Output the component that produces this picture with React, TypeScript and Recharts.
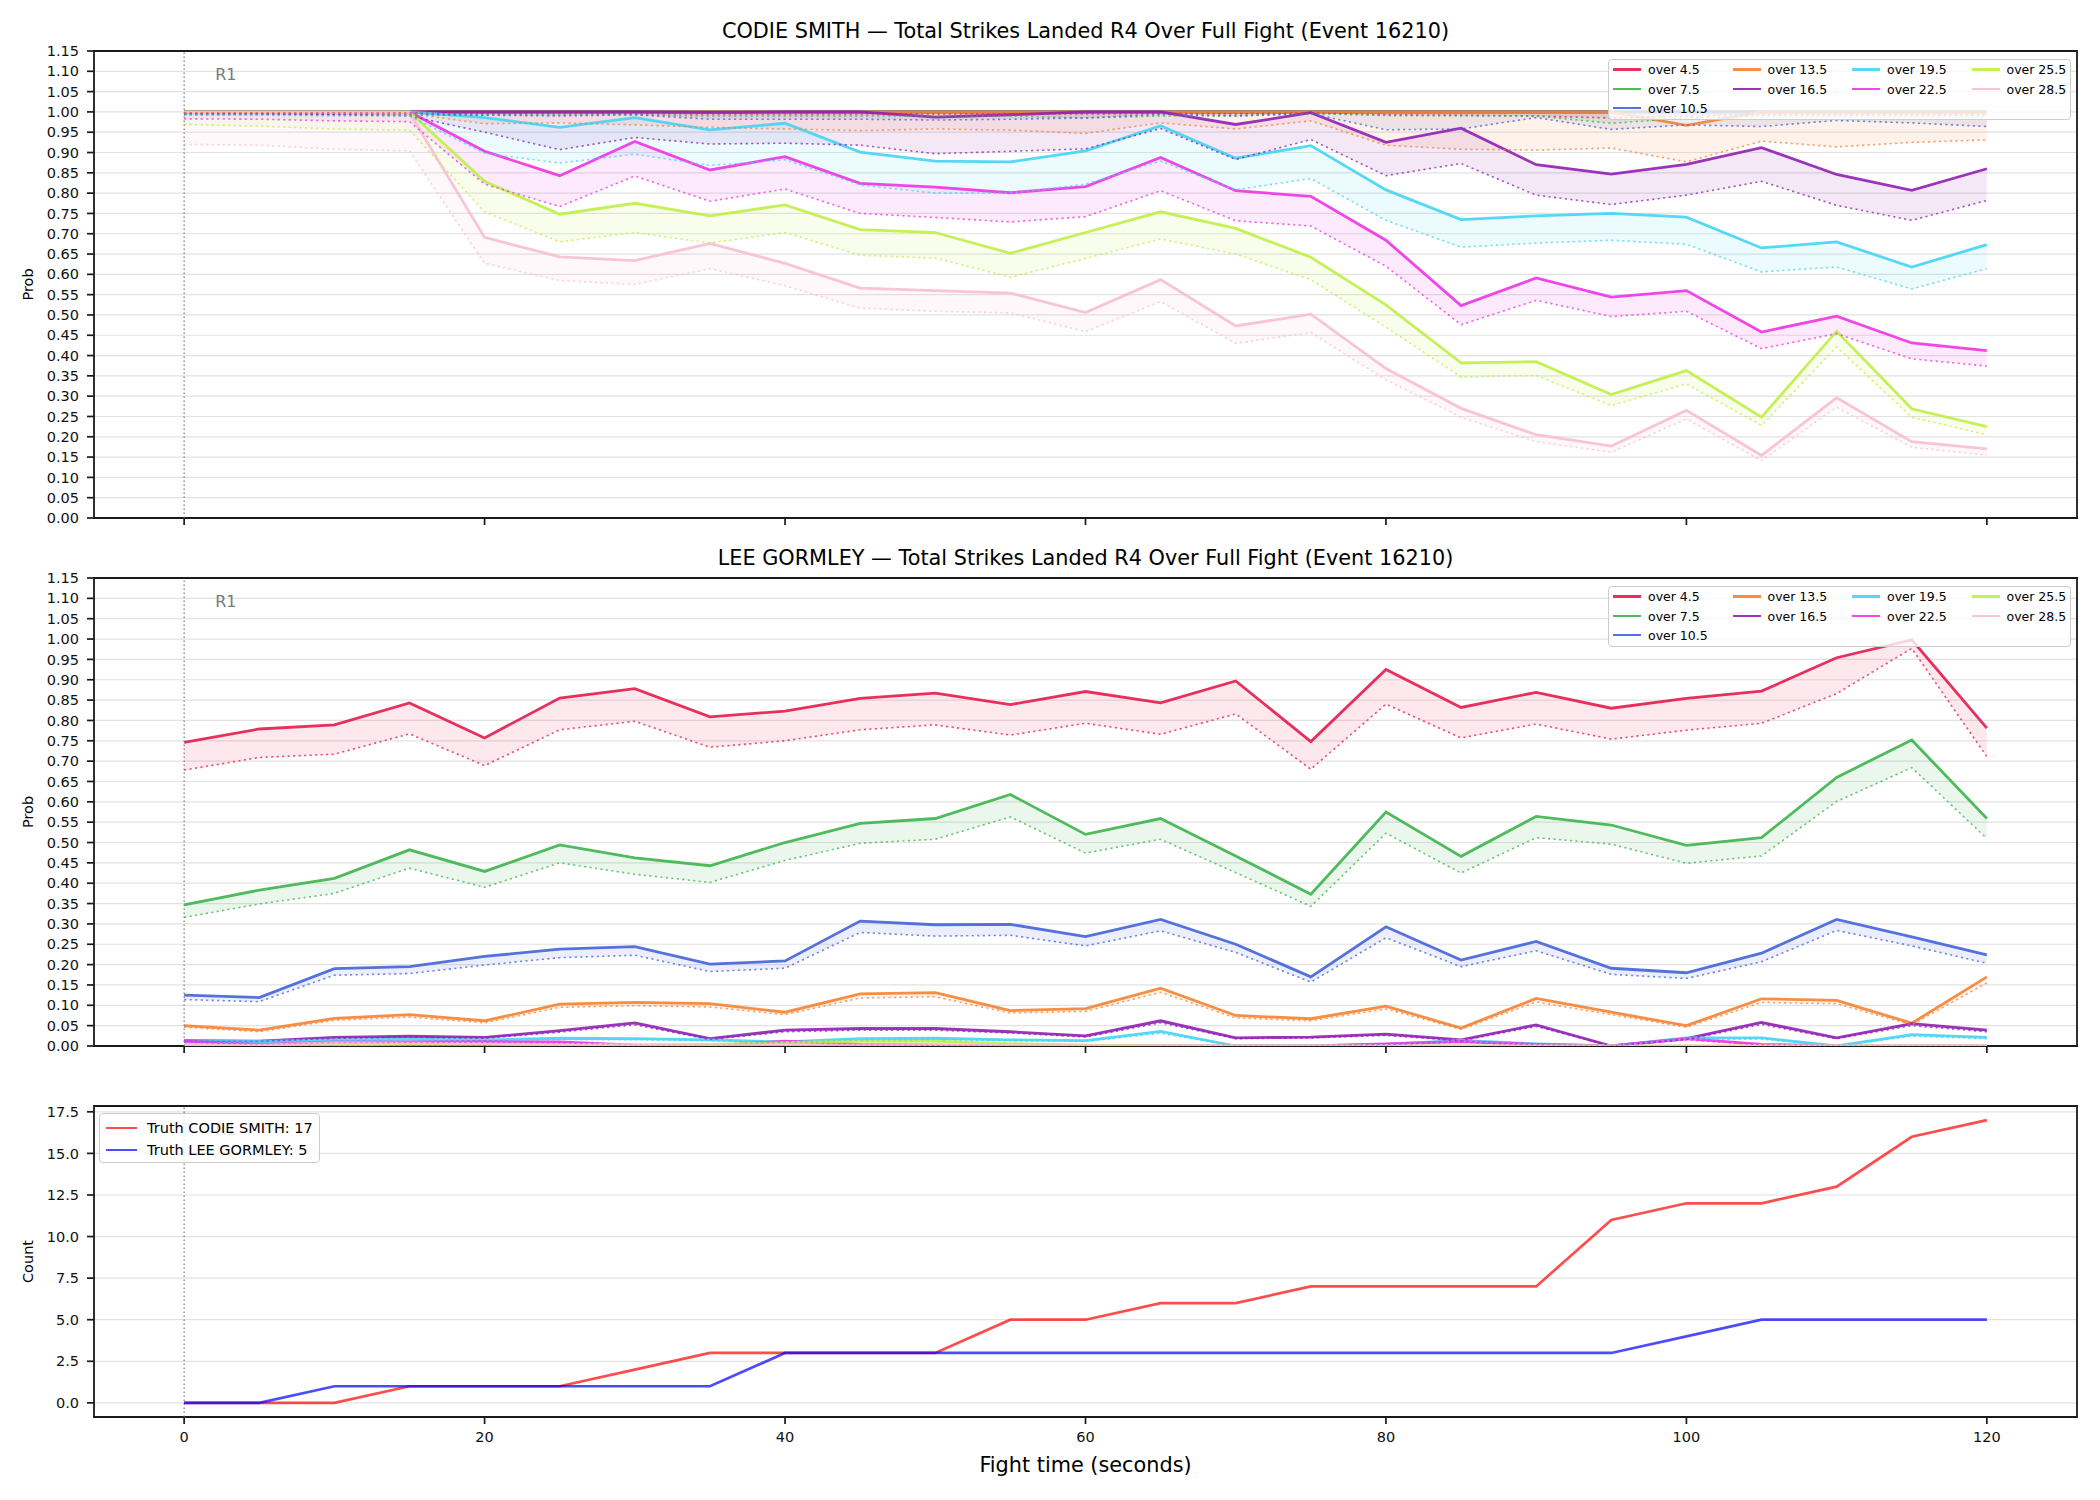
import React from 'react';
import { ComposedChart, Line, Area, XAxis, YAxis, CartesianGrid, ReferenceLine, ReferenceArea } from 'recharts';

const FONT = '"DejaVu Sans", "Liberation Sans", sans-serif';

// ---------------- data ----------------
const TIMES = [0, 5, 10, 15, 20, 25, 30, 35, 40, 45, 50, 55, 60, 65, 70, 75, 80, 85, 90, 95, 100, 105, 110, 115, 120];
const X_TICKS = [0, 20, 40, 60, 80, 100, 120];
const PROB_TICKS = [0, 0.05, 0.1, 0.15, 0.2, 0.25, 0.3, 0.35, 0.4, 0.45, 0.5, 0.55, 0.6, 0.65, 0.7, 0.75, 0.8, 0.85, 0.9, 0.95, 1.0, 1.05, 1.1, 1.15];
const COUNT_TICKS = [0, 2.5, 5, 7.5, 10, 12.5, 15, 17.5];

const LINE_LABELS = ['over 4.5', 'over 7.5', 'over 10.5', 'over 13.5', 'over 16.5', 'over 19.5', 'over 22.5', 'over 25.5', 'over 28.5'];
const LINE_COLORS = ['#e6194b', '#3cb44b', '#4363d8', '#f58231', '#911eb4', '#42d4f4', '#f032e6', '#bfef45', '#fabed4'];

const TITLE_CS = 'CODIE SMITH — Total Strikes Landed R4 Over Full Fight (Event 16210)';
const TITLE_LG = 'LEE GORMLEY — Total Strikes Landed R4 Over Full Fight (Event 16210)';

// CODIE SMITH: upper (solid) and lower (dotted) lines
const CS_HI_45 = [1, 1, 1, 1, 1, 1, 1, 1, 1, 1, 1, 1, 1, 1, 1, 1, 1, 1, 1, 1, 1, 1, 1, 1, 1];
const CS_LO_45 = [0.997, 0.997, 0.997, 0.997, 0.996, 0.996, 0.996, 0.995, 0.995, 0.995, 0.995, 0.995, 0.995, 0.996, 0.995, 0.997, 0.993, 0.992, 0.99, 0.985, 0.99, 0.995, 0.995, 0.995, 0.995];
const CS_HI_75 = [1, 1, 1, 1, 1, 1, 1, 1, 1, 1, 1, 1, 1, 1, 1, 1, 1, 1, 1, 1, 1, 1, 1, 1, 1];
const CS_LO_75 = [0.995, 0.995, 0.995, 0.995, 0.993, 0.993, 0.993, 0.99, 0.99, 0.99, 0.99, 0.99, 0.985, 0.99, 0.99, 0.996, 0.991, 0.99, 0.99, 0.972, 0.985, 0.99, 0.99, 0.99, 0.99];
const CS_HI_105 = [1, 1, 1, 1, 1, 1, 1, 1, 1, 1, 1, 1, 1, 1, 1, 1, 1, 1, 1, 1, 1, 1, 1, 1, 1];
const CS_LO_105 = [0.993, 0.993, 0.993, 0.993, 0.992, 0.99, 0.993, 0.982, 0.982, 0.982, 0.98, 0.982, 0.985, 0.994, 0.99, 0.996, 0.956, 0.958, 0.986, 0.957, 0.968, 0.964, 0.979, 0.973, 0.964];
const CS_HI_135 = [1, 1, 1, 1, 1, 1, 1, 1, 1, 1, 1, 1, 1, 1, 1, 1, 1, 1, 1, 1, 0.967, 1, 1, 1, 1];
const CS_LO_135 = [0.997, 0.997, 0.996, 0.996, 0.971, 0.973, 0.968, 0.962, 0.958, 0.954, 0.958, 0.955, 0.947, 0.973, 0.958, 0.978, 0.918, 0.908, 0.906, 0.911, 0.877, 0.928, 0.914, 0.925, 0.931];
const CS_HI_165 = [1, 1, 1, 1, 1, 1, 1, 0.999, 1, 1, 0.987, 0.993, 1, 1, 0.969, 0.998, 0.925, 0.96, 0.87, 0.847, 0.871, 0.912, 0.846, 0.807, 0.86];
const CS_LO_165 = [0.995, 0.995, 0.993, 0.99, 0.95, 0.907, 0.937, 0.921, 0.923, 0.918, 0.897, 0.903, 0.909, 0.959, 0.883, 0.932, 0.843, 0.873, 0.795, 0.772, 0.795, 0.829, 0.77, 0.733, 0.782];
const CS_HI_195 = [1, 1, 1, 1, 0.986, 0.962, 0.986, 0.956, 0.972, 0.901, 0.879, 0.877, 0.904, 0.966, 0.886, 0.917, 0.808, 0.735, 0.744, 0.75, 0.741, 0.665, 0.68, 0.618, 0.673];
const CS_LO_195 = [0.992, 0.992, 0.99, 0.99, 0.898, 0.874, 0.896, 0.868, 0.882, 0.82, 0.8, 0.8, 0.822, 0.879, 0.808, 0.836, 0.733, 0.667, 0.677, 0.684, 0.674, 0.606, 0.618, 0.564, 0.614];
const CS_HI_225 = [1, 1, 1, 1, 0.903, 0.843, 0.927, 0.857, 0.89, 0.824, 0.815, 0.801, 0.816, 0.888, 0.806, 0.792, 0.684, 0.523, 0.591, 0.544, 0.56, 0.458, 0.497, 0.431, 0.412];
const CS_LO_225 = [0.983, 0.982, 0.978, 0.976, 0.822, 0.767, 0.842, 0.78, 0.81, 0.75, 0.74, 0.729, 0.742, 0.806, 0.732, 0.719, 0.62, 0.476, 0.536, 0.496, 0.509, 0.417, 0.454, 0.392, 0.374];
const CS_HI_255 = [1, 1, 1, 1, 0.829, 0.748, 0.775, 0.744, 0.771, 0.71, 0.703, 0.652, 0.703, 0.754, 0.713, 0.642, 0.525, 0.382, 0.385, 0.304, 0.363, 0.248, 0.46, 0.269, 0.225];
const CS_LO_255 = [0.969, 0.965, 0.958, 0.955, 0.754, 0.68, 0.703, 0.677, 0.703, 0.647, 0.64, 0.593, 0.639, 0.687, 0.65, 0.587, 0.47, 0.347, 0.351, 0.277, 0.33, 0.228, 0.421, 0.248, 0.205];
const CS_HI_285 = [0.998, 0.998, 0.998, 0.998, 0.691, 0.643, 0.634, 0.676, 0.627, 0.566, 0.56, 0.554, 0.506, 0.587, 0.473, 0.502, 0.368, 0.27, 0.205, 0.177, 0.265, 0.154, 0.296, 0.188, 0.17];
const CS_LO_285 = [0.92, 0.918, 0.908, 0.904, 0.627, 0.585, 0.575, 0.614, 0.572, 0.517, 0.509, 0.505, 0.459, 0.533, 0.43, 0.457, 0.34, 0.248, 0.188, 0.162, 0.244, 0.141, 0.273, 0.174, 0.155];

// LEE GORMLEY: upper (solid) and lower (dotted) lines
const LG_HI_45 = [0.746, 0.779, 0.789, 0.843, 0.757, 0.855, 0.878, 0.809, 0.823, 0.854, 0.867, 0.839, 0.871, 0.843, 0.897, 0.748, 0.925, 0.832, 0.869, 0.83, 0.854, 0.872, 0.954, 0.998, 0.781];
const LG_LO_45 = [0.678, 0.709, 0.717, 0.767, 0.689, 0.777, 0.798, 0.734, 0.75, 0.777, 0.789, 0.764, 0.793, 0.766, 0.816, 0.68, 0.84, 0.757, 0.791, 0.754, 0.776, 0.793, 0.866, 0.977, 0.711];
const LG_HI_75 = [0.347, 0.383, 0.412, 0.482, 0.429, 0.494, 0.462, 0.443, 0.5, 0.547, 0.559, 0.618, 0.52, 0.559, 0.467, 0.373, 0.575, 0.466, 0.564, 0.543, 0.493, 0.512, 0.66, 0.752, 0.559];
const LG_LO_75 = [0.316, 0.349, 0.375, 0.437, 0.39, 0.45, 0.422, 0.402, 0.456, 0.498, 0.508, 0.563, 0.474, 0.508, 0.426, 0.343, 0.523, 0.425, 0.512, 0.496, 0.449, 0.467, 0.601, 0.684, 0.51];
const LG_HI_105 = [0.125, 0.119, 0.19, 0.195, 0.22, 0.238, 0.244, 0.201, 0.209, 0.307, 0.298, 0.299, 0.269, 0.311, 0.25, 0.17, 0.293, 0.211, 0.257, 0.191, 0.18, 0.228, 0.311, 0.268, 0.224];
const LG_LO_105 = [0.114, 0.109, 0.174, 0.178, 0.199, 0.217, 0.223, 0.183, 0.191, 0.279, 0.27, 0.272, 0.246, 0.283, 0.23, 0.157, 0.266, 0.195, 0.234, 0.176, 0.166, 0.207, 0.284, 0.246, 0.203];
const LG_HI_135 = [0.05, 0.039, 0.068, 0.077, 0.062, 0.103, 0.107, 0.104, 0.083, 0.128, 0.131, 0.087, 0.092, 0.142, 0.075, 0.067, 0.098, 0.044, 0.117, 0.083, 0.05, 0.116, 0.112, 0.056, 0.17];
const LG_LO_135 = [0.046, 0.035, 0.063, 0.071, 0.057, 0.095, 0.099, 0.096, 0.077, 0.118, 0.121, 0.081, 0.085, 0.132, 0.069, 0.062, 0.091, 0.041, 0.108, 0.077, 0.046, 0.107, 0.104, 0.052, 0.155];
const LG_HI_165 = [0.013, 0.012, 0.021, 0.024, 0.021, 0.038, 0.057, 0.018, 0.039, 0.043, 0.043, 0.035, 0.025, 0.062, 0.02, 0.022, 0.029, 0.015, 0.052, 0.0, 0.018, 0.058, 0.02, 0.055, 0.039];
const LG_LO_165 = [0.011, 0.011, 0.019, 0.022, 0.019, 0.034, 0.052, 0.016, 0.035, 0.039, 0.039, 0.032, 0.022, 0.057, 0.018, 0.02, 0.026, 0.013, 0.048, 0.0, 0.016, 0.053, 0.018, 0.05, 0.035];
const LG_HI_195 = [0.011, 0.011, 0.015, 0.017, 0.015, 0.019, 0.018, 0.015, 0.01, 0.018, 0.019, 0.015, 0.013, 0.036, 0.0, 0.0, 0.004, 0.014, 0.005, 0.0, 0.02, 0.02, 0.0, 0.028, 0.021];
const LG_LO_195 = [0.009, 0.009, 0.013, 0.014, 0.013, 0.016, 0.015, 0.013, 0.008, 0.015, 0.016, 0.013, 0.011, 0.031, 0.0, 0.0, 0.003, 0.012, 0.004, 0.0, 0.017, 0.017, 0.0, 0.024, 0.018];
const LG_HI_225 = [0.012, 0.004, 0.01, 0.01, 0.011, 0.01, 0.002, 0.0, 0.012, 0.004, 0.002, 0.0, 0.0, 0.0, 0.0, 0.0, 0.005, 0.011, 0.004, 0.0, 0.018, 0.004, 0.0, 0.0, 0.0];
const LG_LO_225 = [0.01, 0.003, 0.008, 0.008, 0.009, 0.008, 0.002, 0.0, 0.01, 0.003, 0.002, 0.0, 0.0, 0.0, 0.0, 0.0, 0.004, 0.009, 0.003, 0.0, 0.015, 0.003, 0.0, 0.0, 0.0];
const LG_HI_255 = [0.002, 0.0, 0.003, 0.004, 0.004, 0.003, 0.003, 0.004, 0.008, 0.012, 0.012, 0.006, 0.002, 0.0, 0.0, 0.0, 0.0, 0.0, 0.0, 0.0, 0.0, 0.0, 0.0, 0.0, 0.0];
const LG_LO_255 = [0.002, 0.0, 0.002, 0.003, 0.003, 0.002, 0.002, 0.003, 0.007, 0.01, 0.01, 0.005, 0.002, 0.0, 0.0, 0.0, 0.0, 0.0, 0.0, 0.0, 0.0, 0.0, 0.0, 0.0, 0.0];
const LG_HI_285 = [0.004, 0.002, 0.008, 0.007, 0.006, 0.004, 0.003, 0.002, 0.003, 0.003, 0.003, 0.002, 0.001, 0.0, 0.0, 0.0, 0.0, 0.0, 0.0, 0.0, 0.0, 0.0, 0.0, 0.0, 0.0];
const LG_LO_285 = [0.003, 0.002, 0.007, 0.006, 0.005, 0.003, 0.003, 0.002, 0.003, 0.003, 0.003, 0.002, 0.001, 0.0, 0.0, 0.0, 0.0, 0.0, 0.0, 0.0, 0.0, 0.0, 0.0, 0.0, 0.0];

// Truth counts
const TRUTH_CS = [0, 0, 0, 1, 1, 1, 2, 3, 3, 3, 3, 5, 5, 6, 6, 7, 7, 7, 7, 11, 12, 12, 13, 16, 17];
const TRUTH_LG = [0, 0, 1, 1, 1, 1, 1, 1, 3, 3, 3, 3, 3, 3, 3, 3, 3, 3, 3, 3, 4, 5, 5, 5, 5];
const TRUTH_LABELS = ['Truth CODIE SMITH: 17', 'Truth LEE GORMLEY: 5'];
const TRUTH_COLORS = ['#ff0000', '#0000ff'];

const CS_HI = [CS_HI_45, CS_HI_75, CS_HI_105, CS_HI_135, CS_HI_165, CS_HI_195, CS_HI_225, CS_HI_255, CS_HI_285];
const CS_LO = [CS_LO_45, CS_LO_75, CS_LO_105, CS_LO_135, CS_LO_165, CS_LO_195, CS_LO_225, CS_LO_255, CS_LO_285];
const LG_HI = [LG_HI_45, LG_HI_75, LG_HI_105, LG_HI_135, LG_HI_165, LG_HI_195, LG_HI_225, LG_HI_255, LG_HI_285];
const LG_LO = [LG_LO_45, LG_LO_75, LG_LO_105, LG_LO_135, LG_LO_165, LG_LO_195, LG_LO_225, LG_LO_255, LG_LO_285];

// ---------------- layout ----------------
const FIG_W = 2100;
const PLOT_L = 94;
const PLOT_R = 2077;
const Y_AXIS_W = 60;
const X_CENTER = (PLOT_L + PLOT_R) / 2;
const TICK_FONT = 14.5;
const AXIS_COLOR = '#1a1a1a';

const R1Label = (props: any) => {
  const vb = props.viewBox || {};
  return (
    <text x={(vb.x || 0) + 31} y={(vb.y || 0) + 29} fill="#7a7a7a" fontSize={16} fontFamily={FONT}>R1</text>
  );
};

const makeYLabel = (text: string) => (props: any) => {
  const vb = props.viewBox || {};
  const cy = (vb.y || 0) + (vb.height || 0) / 2;
  const x = 33;
  return (
    <text x={x} y={cy} transform={`rotate(-90, ${x}, ${cy})`} textAnchor="middle" fontSize={14.5} fontFamily={FONT} fill="#000">{text}</text>
  );
};

const EmptyTick = () => <g />;

function CenterText({ text, cx, cy, size }: any) {
  return (
    <div style={{ position: 'absolute', left: cx - 1000, top: cy - 20, width: 2000, height: 40, display: 'flex', alignItems: 'center', justifyContent: 'center', fontFamily: FONT, fontSize: size, color: '#000', whiteSpace: 'nowrap' }}>{text}</div>
  );
}

function ProbLegend({ top }: any) {
  const slots = LINE_LABELS.map((_, i) => (i < 3 ? [0, i] : [1 + Math.floor((i - 3) / 2), (i - 3) % 2]));
  const rowY = [10, 29.5, 48.5];
  return (
    <div style={{ position: 'absolute', left: 1608, top, width: 463, height: 61, background: 'rgba(255,255,255,0.8)', border: '1.3px solid #cccccc', borderRadius: 4, boxSizing: 'border-box' }}>
      {LINE_LABELS.map((lab, i) => {
        const [c, r] = slots[i];
        const x0 = 4 + c * 119.5;
        const cy = rowY[r];
        return (
          <div key={lab}>
            <div style={{ position: 'absolute', left: x0, top: cy - 1.4, width: 28, height: 2.8, background: LINE_COLORS[i], opacity: 0.9 }} />
            <div style={{ position: 'absolute', left: x0 + 35, top: cy - 10, height: 20, display: 'flex', alignItems: 'center', fontFamily: FONT, fontSize: 12.5, color: '#000', whiteSpace: 'nowrap' }}>{lab}</div>
          </div>
        );
      })}
    </div>
  );
}

function TruthLegend({ top }: any) {
  const rowY = [14, 36];
  return (
    <div style={{ position: 'absolute', left: 99, top, width: 221, height: 50, background: 'rgba(255,255,255,0.8)', border: '1.3px solid #cccccc', borderRadius: 4, boxSizing: 'border-box' }}>
      {TRUTH_LABELS.map((lab, i) => (
        <div key={lab}>
          <div style={{ position: 'absolute', left: 6, top: rowY[i] - 1.3, width: 31, height: 2.6, background: TRUTH_COLORS[i], opacity: 0.7 }} />
          <div style={{ position: 'absolute', left: 47, top: rowY[i] - 10, height: 20, display: 'flex', alignItems: 'center', fontFamily: FONT, fontSize: 14.5, color: '#000', whiteSpace: 'nowrap' }}>{lab}</div>
        </div>
      ))}
    </div>
  );
}

function ProbPanel({ chartTop, chartHeight, plotTop, plotBottom, his, los, title }: any) {
  const rows = TIMES.map((t, k) => {
    const r: any = { t };
    his.forEach((h: number[], i: number) => {
      r['h' + i] = h[k];
      r['l' + i] = los[i][k];
      r['b' + i] = [los[i][k], h[k]];
    });
    return r;
  });
  const xAxisH = 10;
  const mt = plotTop - chartTop;
  const mb = chartTop + chartHeight - plotBottom - xAxisH;
  return (
    <div style={{ position: 'absolute', left: 0, top: chartTop, width: FIG_W, height: chartHeight }}>
      <ComposedChart width={FIG_W} height={chartHeight} data={rows} margin={{ top: mt, right: FIG_W - PLOT_R, bottom: mb, left: PLOT_L - Y_AXIS_W }}>
        <CartesianGrid vertical={false} stroke="#e2e2e2" strokeWidth={1.2} />
        <XAxis type="number" dataKey="t" domain={[-6, 126]} ticks={X_TICKS} allowDataOverflow height={xAxisH} axisLine={false} tickSize={7} tick={EmptyTick} tickLine={{ stroke: AXIS_COLOR, strokeWidth: 1.7 }} />
        <YAxis type="number" domain={[0, 1.15]} ticks={PROB_TICKS} interval={0} allowDataOverflow width={Y_AXIS_W} axisLine={false} tickSize={7} tickMargin={8}
          tickLine={{ stroke: AXIS_COLOR, strokeWidth: 1.7 }}
          tick={{ fontSize: TICK_FONT, fill: '#111', fontFamily: FONT }}
          tickFormatter={(v: number) => v.toFixed(2)}
          label={makeYLabel('Prob')} />
        {LINE_LABELS.map((lab, i) => (
          <Area key={'b' + i} type="linear" dataKey={'b' + i} stroke="none" fill={LINE_COLORS[i]} fillOpacity={0.1} isAnimationActive={false} dot={false} activeDot={false} legendType="none" />
        ))}
        {LINE_LABELS.map((lab, i) => (
          <Line key={'h' + i} type="linear" dataKey={'h' + i} name={lab} stroke={LINE_COLORS[i]} strokeOpacity={0.9} strokeWidth={2.8} dot={false} activeDot={false} isAnimationActive={false} />
        ))}
        {LINE_LABELS.map((lab, i) => (
          <Line key={'l' + i} type="linear" dataKey={'l' + i} stroke={LINE_COLORS[i]} strokeOpacity={0.75} strokeWidth={1.6} strokeDasharray="2.2 3.3" dot={false} activeDot={false} isAnimationActive={false} legendType="none" />
        ))}
        <ReferenceLine x={0} stroke="#777" strokeWidth={1.2} strokeDasharray="1.5 2.5" label={R1Label} ifOverflow="visible" />
        <ReferenceArea x1={-6} x2={126} y1={0} y2={1.15} fill="none" fillOpacity={0} stroke={AXIS_COLOR} strokeWidth={1.8} ifOverflow="visible" />
      </ComposedChart>
      <CenterText text={title} cx={X_CENTER} cy={plotTop - 20.5 - chartTop} size={20.8} />
      <ProbLegend top={plotTop + 7.5 - chartTop} />
    </div>
  );
}

function TruthPanel({ chartTop, chartHeight, plotTop, plotBottom }: any) {
  const rows = TIMES.map((t, k) => ({ t, cs: TRUTH_CS[k], lg: TRUTH_LG[k] }));
  const xAxisH = 40;
  const mt = plotTop - chartTop;
  const mb = chartTop + chartHeight - plotBottom - xAxisH;
  return (
    <div style={{ position: 'absolute', left: 0, top: chartTop, width: FIG_W, height: chartHeight }}>
      <ComposedChart width={FIG_W} height={chartHeight} data={rows} margin={{ top: mt, right: FIG_W - PLOT_R, bottom: mb, left: PLOT_L - Y_AXIS_W }}>
        <CartesianGrid vertical={false} stroke="#e2e2e2" strokeWidth={1.2} />
        <XAxis type="number" dataKey="t" domain={[-6, 126]} ticks={X_TICKS} allowDataOverflow height={xAxisH} axisLine={false} tickSize={7} tickMargin={8}
          tickLine={{ stroke: AXIS_COLOR, strokeWidth: 1.7 }}
          tick={{ fontSize: TICK_FONT, fill: '#111', fontFamily: FONT }} />
        <YAxis type="number" domain={[-0.85, 17.85]} ticks={COUNT_TICKS} interval={0} allowDataOverflow width={Y_AXIS_W} axisLine={false} tickSize={7} tickMargin={8}
          tickLine={{ stroke: AXIS_COLOR, strokeWidth: 1.7 }}
          tick={{ fontSize: TICK_FONT, fill: '#111', fontFamily: FONT }}
          tickFormatter={(v: number) => v.toFixed(1)}
          label={makeYLabel('Count')} />
        <ReferenceLine x={0} stroke="#777" strokeWidth={1.2} strokeDasharray="1.5 2.5" label={R1Label} ifOverflow="visible" />
        <Line type="linear" dataKey="cs" name={TRUTH_LABELS[0]} stroke={TRUTH_COLORS[0]} strokeOpacity={0.7} strokeWidth={2.7} dot={false} activeDot={false} isAnimationActive={false} />
        <Line type="linear" dataKey="lg" name={TRUTH_LABELS[1]} stroke={TRUTH_COLORS[1]} strokeOpacity={0.7} strokeWidth={2.7} dot={false} activeDot={false} isAnimationActive={false} />
        <ReferenceArea x1={-6} x2={126} y1={-0.85} y2={17.85} fill="none" fillOpacity={0} stroke={AXIS_COLOR} strokeWidth={1.8} ifOverflow="visible" />
      </ComposedChart>
      <TruthLegend top={plotTop + 7 - chartTop} />
      <CenterText text="Fight time (seconds)" cx={X_CENTER} cy={1465 - chartTop} size={20.8} />
    </div>
  );
}

export default function App() {
  return (
    <div style={{ position: 'absolute', left: 0, top: 0, width: 2100, height: 1500, background: '#fff', overflow: 'hidden' }}>
      <ProbPanel chartTop={0} chartHeight={545} plotTop={51} plotBottom={518} his={CS_HI} los={CS_LO} title={TITLE_CS} />
      <ProbPanel chartTop={545} chartHeight={530} plotTop={578} plotBottom={1046} his={LG_HI} los={LG_LO} title={TITLE_LG} />
      <TruthPanel chartTop={1075} chartHeight={425} plotTop={1106} plotBottom={1417} />
    </div>
  );
}
